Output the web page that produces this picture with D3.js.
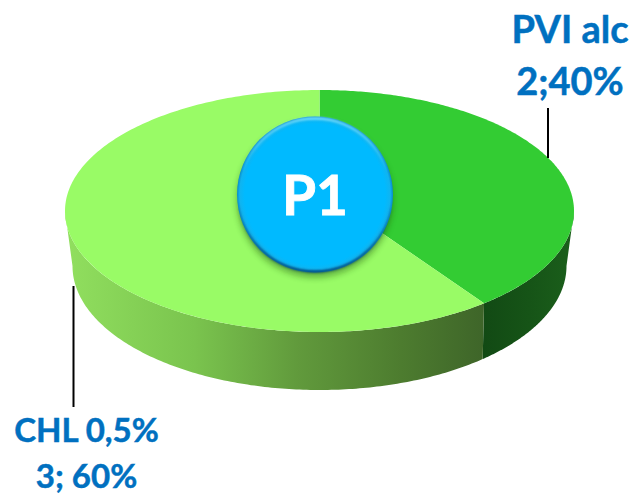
<!DOCTYPE html>
<html><head><meta charset="utf-8">
<script src="https://cdn.jsdelivr.net/npm/d3@7/dist/d3.min.js"></script>
<style>html,body{margin:0;padding:0;background:#fff;overflow:hidden}svg{display:block}text{font-family:Lato,"Noto Sans",sans-serif;font-weight:700}</style>
</head><body><div id="c"></div>
<script>
const categories = ["PVI alc", "CHL 0,5%"];
const values = [2, 3];
const labelLine1 = ["PVI alc", "CHL 0,5%"];
const labelLine2 = ["2;40%", "3; 60%"];
const topColors = ["#33CC33", "#99FB66"];
const centerLabel = "P1";

const W = 636, H = 493;
const svg = d3.select("#c").append("svg").attr("width", W).attr("height", H);
const defs = svg.append("defs");

function grad(id, stops, attrs) {
  const g = defs.append(attrs && attrs.radial ? "radialGradient" : "linearGradient").attr("id", id);
  Object.entries(attrs || {}).forEach(([k, v]) => { if (k !== "radial") g.attr(k, v); });
  stops.forEach(s => g.append("stop").attr("offset", s[0]).attr("stop-color", s[1]).attr("stop-opacity", s[2] === undefined ? 1 : s[2]));
}
grad("sideLight", [[0, "#90DE5E"], [0.3, "#7AC44E"], [0.55, "#619A3C"], [0.8, "#4D7C2F"], [1, "#3E6529"]],
  {gradientUnits: "userSpaceOnUse", x1: 70, x2: 484, y1: 0, y2: 0});
grad("sideDark", [[0, "#124A14"], [0.5, "#165417"], [1, "#1B5F1B"]],
  {gradientUnits: "userSpaceOnUse", x1: 484, x2: 574, y1: 0, y2: 0});
grad("btn", [[0, "#00BAFF"], [0.9, "#00BAFF"], [0.965, "#10B4F0"], [1, "#0A8CC8"]],
  {radial: true, cx: "50%", cy: "50%", r: "50%"});
grad("rimDark", [[0, "#053A6A", 0], [0.55, "#053A6A", 0], [1, "#063F72", 0.9]],
  {x1: 0, y1: 0, x2: 0, y2: 1});
grad("rimLight", [[0, "#7FE2FF", 0.95], [0.35, "#7FE2FF", 0], [1, "#7FE2FF", 0]],
  {x1: 0, y1: 0, x2: 0, y2: 1});
const blur = defs.append("filter").attr("id", "shadow").attr("x", "-20%").attr("y", "-20%").attr("width", "140%").attr("height", "140%");
blur.append("feGaussianBlur").attr("stdDeviation", 3);
const blur2 = defs.append("filter").attr("id", "soft").attr("x", "-10%").attr("y", "-10%").attr("width", "120%").attr("height", "120%");
blur2.append("feGaussianBlur").attr("stdDeviation", 1.2);

const top_ = {cx: 319.5, cy: 211, rx: 254.5, ry: 121, k: 0.886};
const base = {cx: 319.5, cy: 266, rx: 247, ry: 124, k: 0.861};
const apex = [319.5, 190];

// pie angle (clockwise from the back) to the rim's own ellipse parameter, with perspective
function rimParam(a, rim) {
  if (Math.abs(a - Math.PI) < 1e-6) return Math.PI;
  const t = 2 * Math.atan(rim.k * Math.tan(a / 2));
  return t < 0 ? t + 2 * Math.PI : t;
}
const rimXY = (t, rim) => [rim.cx + rim.rx * Math.sin(t), rim.cy - rim.ry * Math.cos(t)];
const sweep = (t0, t1, n = 160) => d3.range(n + 1).map(i => t0 + (t1 - t0) * i / n);
const line = d3.line();

const arcs = d3.pie().sort(null).value(d => d)(values);
const seam = arcs[0].endAngle;

// side walls: the rim between its left and right extremes faces the viewer
const wall = (end0, end1, fill) => {
  const param = (e, rim) => e === "seam" ? rimParam(seam, rim) : e;
  const upper = sweep(param(end0, top_), param(end1, top_)).map(t => rimXY(t, top_));
  const lower = sweep(param(end1, base), param(end0, base)).map(t => rimXY(t, base));
  svg.append("path").attr("d", line(upper.concat(lower)) + "Z").attr("fill", fill);
};
wall(Math.PI / 2, "seam", "url(#sideDark)");
wall("seam", Math.PI * 1.5, "url(#sideLight)");

// top faces
arcs.forEach((d, i) => {
  const pts = [apex].concat(sweep(rimParam(d.startAngle, top_), d.endAngle >= 2 * Math.PI - 1e-6 ? 2 * Math.PI : rimParam(d.endAngle, top_), 240).map(t => rimXY(t, top_)));
  svg.append("path").attr("d", line(pts) + "Z").attr("fill", topColors[i]);
});

// leader lines
svg.append("line").attr("x1", 548).attr("x2", 548).attr("y1", 108).attr("y2", 158).attr("stroke", "#000").attr("stroke-width", 2);
svg.append("line").attr("x1", 73.5).attr("x2", 73.5).attr("y1", 286).attr("y2", 407).attr("stroke", "#000").attr("stroke-width", 2);

// labels
const labelPos = [[570, 43, 95, 38], [86.5, 442, 488, 33]];
categories.forEach((c, i) => {
  [[labelLine1[i], labelPos[i][1]], [labelLine2[i], labelPos[i][2]]].forEach(([s, y]) => {
    svg.append("text").attr("x", labelPos[i][0]).attr("y", y).attr("text-anchor", "middle")
      .attr("font-size", labelPos[i][3]).attr("fill", "#0070C0")
      .attr("stroke", "#0070C0").attr("stroke-width", 0.5).text(s);
  });
});

// centre button
const bx = 315, by = 194.5, br = 78;
svg.append("circle").attr("cx", bx).attr("cy", by + 5).attr("r", br).attr("fill", "#1F5A10").attr("opacity", 0.45).attr("filter", "url(#shadow)");
svg.append("circle").attr("cx", bx).attr("cy", by).attr("r", br).attr("fill", "url(#btn)");
svg.append("circle").attr("cx", bx).attr("cy", by).attr("r", br - 1).attr("fill", "none").attr("stroke", "url(#rimDark)").attr("stroke-width", 2.5).attr("filter", "url(#soft)");
svg.append("circle").attr("cx", bx).attr("cy", by).attr("r", br - 2).attr("fill", "none").attr("stroke", "url(#rimLight)").attr("stroke-width", 2.5).attr("filter", "url(#soft)");
svg.append("text").attr("x", bx).attr("y", 215).attr("text-anchor", "middle").attr("font-size", 55).attr("fill", "#fff").attr("stroke", "#fff").attr("stroke-width", 0.8).text(centerLabel);
</script></body></html>
